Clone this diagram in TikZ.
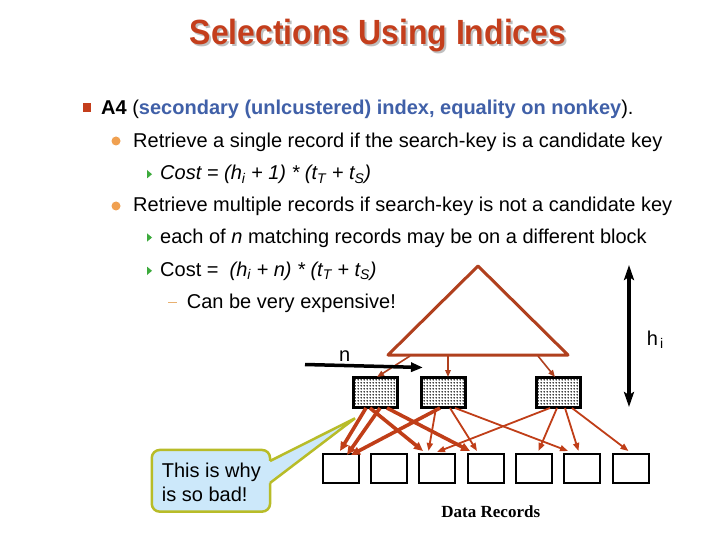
\documentclass[tikz,border=0pt]{standalone}
\usepackage{fontspec}
\setmainfont{Liberation Sans}
\newfontfamily\timesf{Liberation Serif}
\usetikzlibrary{patterns,arrows.meta}
\definecolor{titlered}{RGB}{196,62,28}
\definecolor{bodyblue}{RGB}{64,96,168}
\definecolor{treered}{RGB}{176,64,30}
\definecolor{arrred}{RGB}{192,62,24}
\definecolor{bulletorange}{RGB}{240,160,80}
\definecolor{dashorange}{RGB}{232,176,112}
\definecolor{bulletgreen}{RGB}{60,170,60}
\definecolor{calloutfill}{RGB}{204,232,250}
\definecolor{calloutedge}{RGB}{184,188,40}
\newcommand{\sbs}[1]{\textsubscript{#1}}
\newcommand{\titletext}{\scalebox{0.913}[1]{\fontsize{35}{40}\selectfont\bfseries Selections Using Indices}}
\pgfdeclarepatternformonly{stipple}{\pgfpointorigin}{\pgfpoint{3pt}{3pt}}{\pgfpoint{3pt}{3pt}}{%
  \pgfpathcircle{\pgfpoint{1.5pt}{1.5pt}}{1.0pt}\pgfusepath{fill}}
\begin{document}
\begin{tikzpicture}[x=1pt,y=-1pt,
  body/.style={anchor=base west,inner sep=0pt,font=\fontsize{20}{24}\selectfont},
  idxbox/.style={draw=black,line width=2.5pt,minimum width=44pt,minimum height=30pt,inner sep=0pt,
     preaction={fill=white},pattern=stipple,pattern color=black},
  databox/.style={draw=black,line width=2pt,minimum width=36pt,minimum height=29pt,inner sep=0pt,fill=white},
  thinarr/.style={draw=arrred,line width=1.8pt,-{Triangle[length=8pt,width=6pt]}},
  thickarr/.style={draw=arrred,line width=3.6pt,-{Triangle[length=9pt,width=8pt]}},
  treearr/.style={draw=treered,line width=1.6pt,-{Triangle[length=7pt,width=5.5pt]}},
  blackarr/.style={draw=black,line width=3.5pt},
]
\useasboundingbox[fill=white] (0,0) rectangle (720,540);

% title with shadow
\node[anchor=base,inner sep=0pt] (title) at (378,45)
  {\makebox[0pt][l]{\hspace{2pt}\raisebox{-2pt}{\color{black!25}\titletext}}\color{titlered}\titletext};

% bullets
\fill[titlered] (82.5,103) rectangle (90.5,112);
\fill[bulletorange] (116,141) circle (4.5);
\fill[bulletorange] (116,206) circle (4.5);
\fill[bulletgreen] (147,170) -- (152,174.2) -- (147,178.4) -- cycle;
\fill[bulletgreen] (147,233.3) -- (152,237.5) -- (147,241.7) -- cycle;
\fill[bulletgreen] (147,266.6) -- (152,270.8) -- (147,275) -- cycle;
\draw[dashorange,line width=1.5pt] (168,302.5) -- (177,302.5);

% text lines
\node[body] (l1) at (101,114.3) {\textbf{A4} (\textcolor{bodyblue}{\textbf{secondary (unlcustered) index, equality on nonkey}}).};
\node[body] (l2) at (133,147.7) {Retrieve a single record if the search-key is a candidate key};
\node[body] (l3) at (160,180) {\itshape Cost = (h\sbs{i} + 1) * (t\sbs{T} + t\sbs{S})};
\node[body] (l4) at (133,211.7) {Retrieve multiple records if search-key is not a candidate key};
\node[body] (l5) at (160,243.5) {each of \textit{n} matching records may be on a different block};
\node[body] (l6) at (160,276.7) {Cost = \ \textit{(h\sbs{i} + n) * (t\sbs{T} + t\sbs{S})}};
\node[body] (l7) at (186.7,308.3) {Can be very expensive!};

% tree
\coordinate (apex) at (478,266);
\coordinate (bl) at (388,355);
\coordinate (br) at (568,355);
\draw[treered,line width=3pt,line join=round] (apex) -- (bl) -- (br) -- cycle;

% index boxes
\node[idxbox] (ib1) at (375.5,392.5) {};
\node[idxbox] (ib2) at (443.7,392.5) {};
\node[idxbox] (ib3) at (558.7,392.5) {};

% tree to index arrows
\coordinate (ta1) at (410,356);
\coordinate (ta2) at (448,356);
\coordinate (ta3) at (538,356);
\coordinate (te1) at (377,377);
\coordinate (te2) at (448,377);
\coordinate (te3) at (555,377);
\draw[treearr] (ta1) -- (te1);
\draw[treearr] (ta2) -- (te2);
\draw[treearr] (ta3) -- (te3);

% data boxes
\foreach \k [count=\i] in {340.8,389.1,437.4,485.7,534,582.3,630.6}
  \node[databox] (dr\i) at (\k,468.7) {};

% index to data arrows
\coordinate (a1s) at (366,408); \coordinate (a1e) at (340,451);
\coordinate (a2s) at (380,408); \coordinate (a2e) at (347,455);
\coordinate (a3s) at (440,408); \coordinate (a3e) at (351,455);
\coordinate (a4s) at (370,408); \coordinate (a4e) at (423,451);
\coordinate (a5s) at (387,408); \coordinate (a5e) at (470,451);
\coordinate (b1s) at (436,408); \coordinate (b1e) at (428.5,451);
\coordinate (b2s) at (450,408); \coordinate (b2e) at (477,451);
\coordinate (b3s) at (455,408); \coordinate (b3e) at (568,451);
\coordinate (b4s) at (550,408); \coordinate (b4e) at (437,452);
\coordinate (b5s) at (557,408); \coordinate (b5e) at (538.5,451);
\coordinate (b6s) at (565,408); \coordinate (b6e) at (578.5,451);
\coordinate (b7s) at (572,408); \coordinate (b7e) at (628.5,451);
\foreach \a in {b1,b2,b3,b4,b5,b6,b7} \draw[thinarr] (\a s) -- (\a e);
\foreach \a in {a1,a2,a3,a4,a5} \draw[thickarr] (\a s) -- (\a e);

% h_i arrow
\coordinate (hitop) at (629,265);
\coordinate (hibot) at (629,407);
\draw[blackarr,{Stealth[length=15pt,width=10pt,inset=3pt]}-{Stealth[length=15pt,width=10pt,inset=3pt]}] (hitop) -- (hibot);
\node[body] (hi) at (646.7,345) {h\hspace{2pt}\sbs{i}};

% n arrow
\coordinate (nstart) at (305,364.5);
\coordinate (nend) at (423,367.5);
\draw[blackarr,-{Triangle[length=12pt,width=9pt]}] (nstart) -- (nend);
\node[body] (nlab) at (339,361.7) {n};

% callout
\node[draw=calloutedge,fill=calloutfill,line width=2.5pt,rounded corners=8pt,
  minimum width=118.3pt,minimum height=61.7pt,inner sep=0pt] (cb) at (210.9,480.8) {};
\coordinate (ctip) at (355,418.3);
\coordinate (cu) at (270,461);
\coordinate (cl) at (270,483);
\fill[calloutfill] (266,461) -- (cu) -- (ctip) -- (cl) -- (266,483) -- cycle;
\draw[calloutedge,line width=2.5pt,line join=miter] (cu) -- (ctip) -- (cl);
\node[body] (ct1) at (161.7,477.3) {This is why};
\node[body] (ct2) at (161.7,501.7) {is so bad!};

% data records label
\node[anchor=base,inner sep=0pt,font=\timesf\bfseries\fontsize{17}{20}\selectfont] (drl) at (490.8,517.3) {Data Records};
\end{tikzpicture}
\end{document}
